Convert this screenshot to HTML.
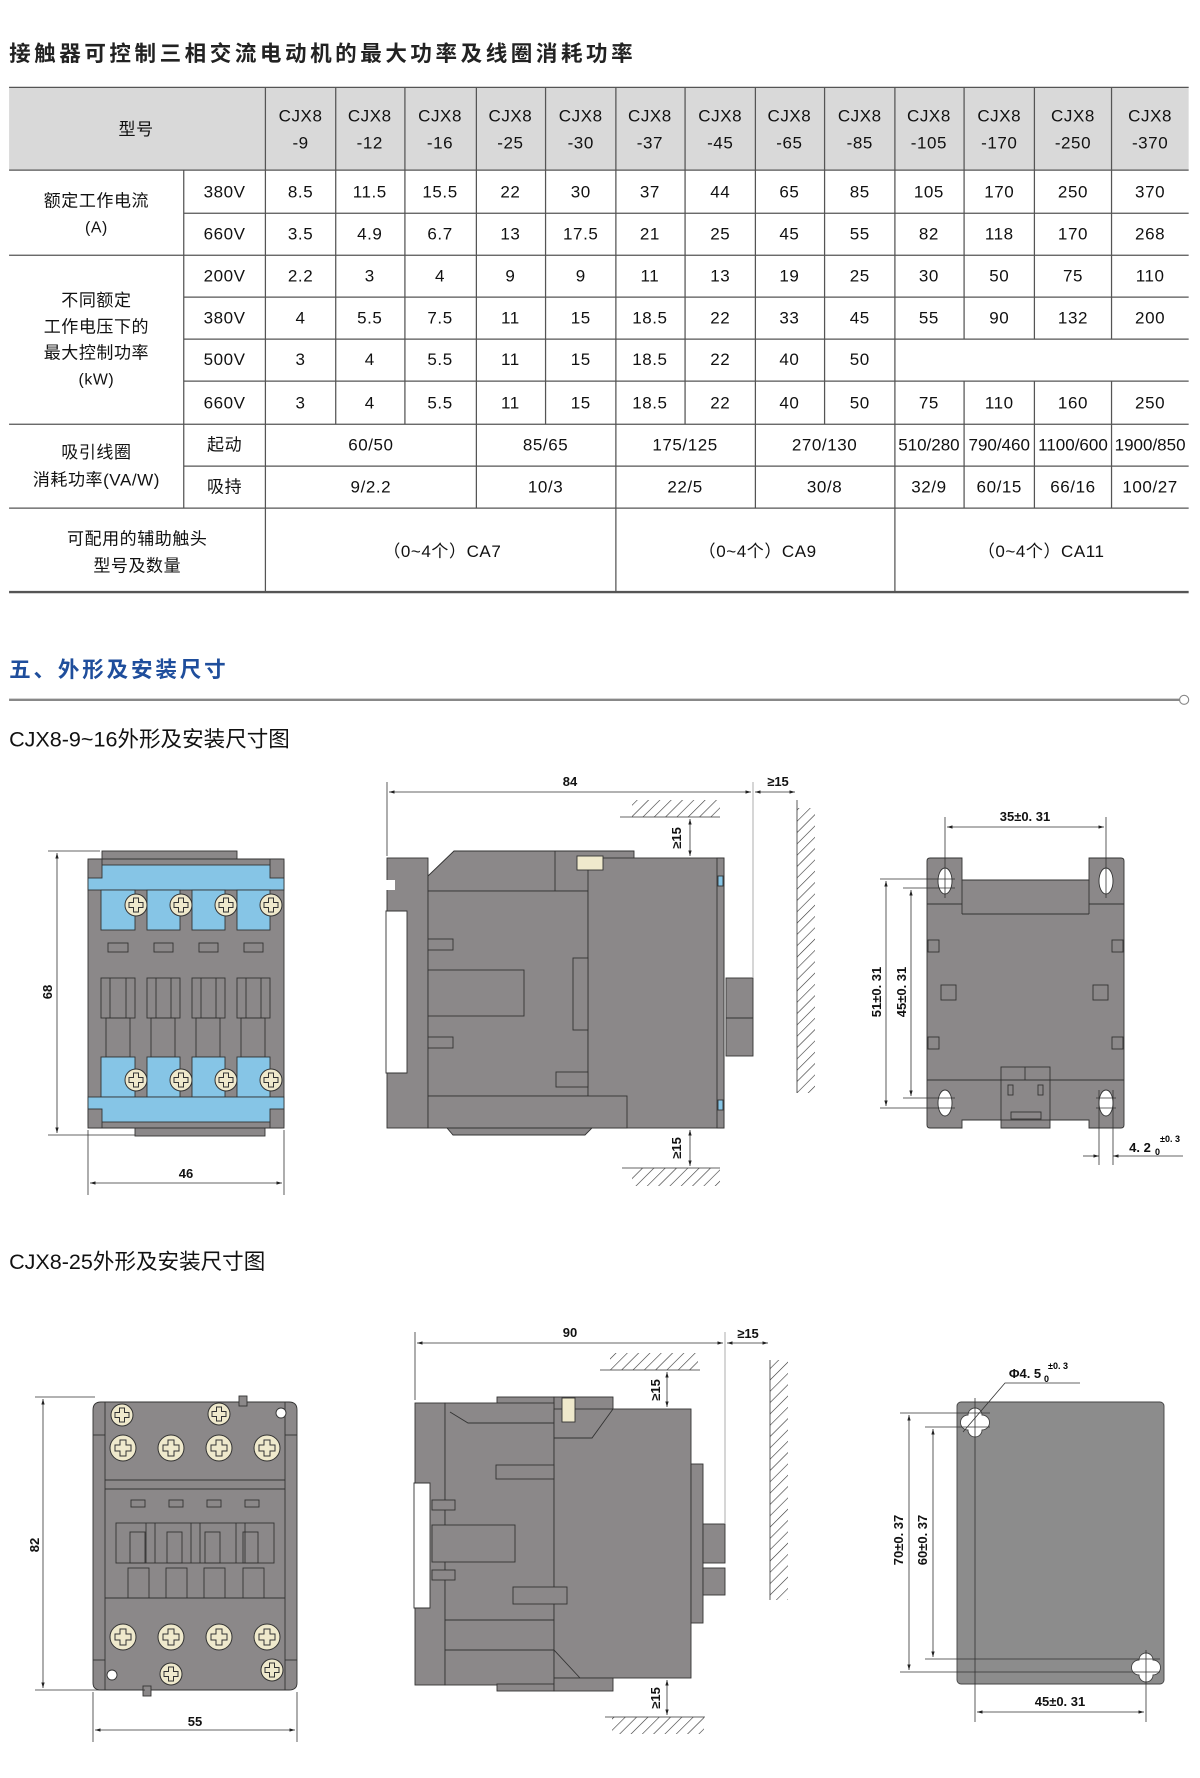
<!DOCTYPE html>
<html><head><meta charset="utf-8"><style>
html,body{margin:0;padding:0;background:#fff;width:1200px;height:1778px;overflow:hidden}
svg{display:block}
.cn{font-family:"Liberation Sans","Noto Sans CJK SC",sans-serif}
.t{font-family:"Liberation Sans Narrow","Liberation Sans","Noto Sans CJK SC",sans-serif;font-size:15px;fill:#111;text-anchor:middle;letter-spacing:0.5px}
.d{font-family:"Liberation Sans","Noto Sans CJK SC",sans-serif;font-size:13px;font-weight:bold;fill:#111;text-anchor:middle}
</style></head><body>
<svg width="1200" height="1778" viewBox="0 0 1200 1778" xmlns="http://www.w3.org/2000/svg">
<defs>
<pattern id="h" width="8" height="8" patternUnits="userSpaceOnUse" patternTransform="rotate(45)"><line x1="0" y1="0" x2="0" y2="8" stroke="#333" stroke-width="1.2"/></pattern>
<g id="scr"><circle r="11" fill="#efe9cc" stroke="#333" stroke-width="1"/><path d="M-2.5,-7 h5 v4.5 h4.5 v5 h-4.5 v4.5 h-5 v-4.5 h-4.5 v-5 h4.5z" fill="none" stroke="#333" stroke-width="1"/></g>
<g id="scr2"><circle r="13" fill="#efe9cc" stroke="#333" stroke-width="1"/><path d="M-3,-8 h6 v5 h5 v6 h-5 v5 h-6 v-5 h-5 v-6 h5z" fill="none" stroke="#333" stroke-width="1"/></g>
<marker id="a" viewBox="0 0 10 10" refX="10" refY="5" markerWidth="7" markerHeight="7" orient="auto-start-reverse"><path d="M0,2 L10,5 L0,8z" fill="#222"/></marker>
</defs>

<g transform="scale(1.13422)">
<text x="8" y="54" class="cn" font-size="19" font-weight="bold" letter-spacing="2.2" fill="#222" textLength="552" lengthAdjust="spacing">接触器可控制三相交流电动机的最大功率及线圈消耗功率</text>
<rect x="8" y="77" width="1040" height="73" fill="#d9d9d9"/>
<g stroke="#555" stroke-width="1.1">
<line x1="8" y1="77" x2="1048" y2="77"/><line x1="8" y1="150" x2="1048" y2="150"/>
<line x1="162" y1="188" x2="1048" y2="188"/><line x1="8" y1="225" x2="1048" y2="225"/>
<line x1="162" y1="262" x2="1048" y2="262"/><line x1="162" y1="299" x2="1048" y2="299"/>
<line x1="162" y1="336" x2="1048" y2="336"/><line x1="8" y1="374" x2="1048" y2="374"/>
<line x1="162" y1="411" x2="1048" y2="411"/><line x1="8" y1="448" x2="1048" y2="448"/>
<line x1="8" y1="522" x2="1048" y2="522" stroke-width="2"/>
<line x1="162" y1="150" x2="162" y2="448"/><line x1="234" y1="77" x2="234" y2="522"/>
<line x1="296" y1="77" x2="296" y2="374"/><line x1="357" y1="77" x2="357" y2="374"/>
<line x1="420" y1="77" x2="420" y2="448"/><line x1="481" y1="77" x2="481" y2="374"/>
<line x1="543" y1="77" x2="543" y2="522"/><line x1="604" y1="77" x2="604" y2="374"/>
<line x1="666" y1="77" x2="666" y2="448"/><line x1="727" y1="77" x2="727" y2="374"/>
<line x1="789" y1="77" x2="789" y2="522"/>
<line x1="850" y1="77" x2="850" y2="299"/><line x1="850" y1="336" x2="850" y2="448"/>
<line x1="912" y1="77" x2="912" y2="299"/><line x1="912" y1="336" x2="912" y2="448"/>
<line x1="980" y1="77" x2="980" y2="299"/><line x1="980" y1="336" x2="980" y2="448"/>
</g>
<g class="t">
<text x="120" y="119" class="cn" font-size="15">型号</text>
<text x="265" y="107">CJX8</text><text x="265" y="131">-9</text>
<text x="326" y="107">CJX8</text><text x="326" y="131">-12</text>
<text x="388" y="107">CJX8</text><text x="388" y="131">-16</text>
<text x="450" y="107">CJX8</text><text x="450" y="131">-25</text>
<text x="512" y="107">CJX8</text><text x="512" y="131">-30</text>
<text x="573" y="107">CJX8</text><text x="573" y="131">-37</text>
<text x="635" y="107">CJX8</text><text x="635" y="131">-45</text>
<text x="696" y="107">CJX8</text><text x="696" y="131">-65</text>
<text x="758" y="107">CJX8</text><text x="758" y="131">-85</text>
<text x="819" y="107">CJX8</text><text x="819" y="131">-105</text>
<text x="881" y="107">CJX8</text><text x="881" y="131">-170</text>
<text x="946" y="107">CJX8</text><text x="946" y="131">-250</text>
<text x="1014" y="107">CJX8</text><text x="1014" y="131">-370</text>

<text x="85" y="182" font-size="15">额定工作电流</text><text x="85" y="205" font-size="14">(A)</text>
<text x="85" y="270" font-size="15">不同额定</text><text x="85" y="293" font-size="15">工作电压下的</text><text x="85" y="316" font-size="15">最大控制功率</text><text x="85" y="339" font-size="14">(kW)</text>
<text x="85" y="404" font-size="15">吸引线圈</text><text x="85" y="428" font-size="15">消耗功率(VA/W)</text>
<text x="121" y="480" font-size="15">可配用的辅助触头</text><text x="121" y="504" font-size="15">型号及数量</text>

<text x="198" y="174">380V</text><text x="198" y="211">660V</text><text x="198" y="248">200V</text>
<text x="198" y="285">380V</text><text x="198" y="322">500V</text><text x="198" y="360">660V</text>
<text x="198" y="397">起动</text><text x="198" y="434">吸持</text>

<text x="265" y="174">8.5</text><text x="326" y="174">11.5</text><text x="388" y="174">15.5</text><text x="450" y="174">22</text><text x="512" y="174">30</text><text x="573" y="174">37</text><text x="635" y="174">44</text><text x="696" y="174">65</text><text x="758" y="174">85</text><text x="819" y="174">105</text><text x="881" y="174">170</text><text x="946" y="174">250</text><text x="1014" y="174">370</text>
<text x="265" y="211">3.5</text><text x="326" y="211">4.9</text><text x="388" y="211">6.7</text><text x="450" y="211">13</text><text x="512" y="211">17.5</text><text x="573" y="211">21</text><text x="635" y="211">25</text><text x="696" y="211">45</text><text x="758" y="211">55</text><text x="819" y="211">82</text><text x="881" y="211">118</text><text x="946" y="211">170</text><text x="1014" y="211">268</text>
<text x="265" y="248">2.2</text><text x="326" y="248">3</text><text x="388" y="248">4</text><text x="450" y="248">9</text><text x="512" y="248">9</text><text x="573" y="248">11</text><text x="635" y="248">13</text><text x="696" y="248">19</text><text x="758" y="248">25</text><text x="819" y="248">30</text><text x="881" y="248">50</text><text x="946" y="248">75</text><text x="1014" y="248">110</text>
<text x="265" y="285">4</text><text x="326" y="285">5.5</text><text x="388" y="285">7.5</text><text x="450" y="285">11</text><text x="512" y="285">15</text><text x="573" y="285">18.5</text><text x="635" y="285">22</text><text x="696" y="285">33</text><text x="758" y="285">45</text><text x="819" y="285">55</text><text x="881" y="285">90</text><text x="946" y="285">132</text><text x="1014" y="285">200</text>
<text x="265" y="322">3</text><text x="326" y="322">4</text><text x="388" y="322">5.5</text><text x="450" y="322">11</text><text x="512" y="322">15</text><text x="573" y="322">18.5</text><text x="635" y="322">22</text><text x="696" y="322">40</text><text x="758" y="322">50</text>
<text x="265" y="360">3</text><text x="326" y="360">4</text><text x="388" y="360">5.5</text><text x="450" y="360">11</text><text x="512" y="360">15</text><text x="573" y="360">18.5</text><text x="635" y="360">22</text><text x="696" y="360">40</text><text x="758" y="360">50</text><text x="819" y="360">75</text><text x="881" y="360">110</text><text x="946" y="360">160</text><text x="1014" y="360">250</text>
<text x="327" y="397">60/50</text><text x="481" y="397">85/65</text><text x="604" y="397">175/125</text><text x="727" y="397">270/130</text><text x="819" y="397" letter-spacing="0">510/280</text><text x="881" y="397" letter-spacing="0">790/460</text><text x="946" y="397" letter-spacing="0">1100/600</text><text x="1014" y="397" letter-spacing="0">1900/850</text>
<text x="327" y="434">9/2.2</text><text x="481" y="434">10/3</text><text x="604" y="434">22/5</text><text x="727" y="434">30/8</text><text x="819" y="434">32/9</text><text x="881" y="434">60/15</text><text x="946" y="434">66/16</text><text x="1014" y="434">100/27</text>
<text x="390" y="491">（0~4个）CA7</text><text x="668" y="491">（0~4个）CA9</text><text x="918" y="491">（0~4个）CA11</text>
</g>
<text x="8" y="597" class="cn" font-size="19" font-weight="bold" letter-spacing="2.5" fill="#1f4e9c">五、外形及安装尺寸</text>
<line x1="8" y1="617" x2="1040" y2="617" stroke="#888" stroke-width="2"/>
<circle cx="1044" cy="617" r="4" fill="#fff" stroke="#888"/>
<text x="8" y="658" class="cn" font-size="19" fill="#111">CJX8-9~16外形及安装尺寸图</text>
<text x="8" y="1119" class="cn" font-size="19" fill="#111">CJX8-25外形及安装尺寸图</text>
</g>

<!-- Drawing 1 front -->
<g stroke="#333" stroke-width="0.9">
<rect x="102" y="851" width="135" height="10" fill="#8b8889"/>
<rect x="135" y="1126" width="130" height="10" fill="#8b8889"/>
<rect x="88" y="859" width="196" height="269" rx="3" fill="#8b8889"/>
<rect x="88" y="865" width="196" height="25" fill="#86c5e6"/>
<rect x="88" y="859" width="14" height="19" fill="#8b8889"/><rect x="270" y="859" width="14" height="19" fill="#8b8889"/>
<rect x="101" y="890" width="34" height="40" fill="#86c5e6"/><rect x="147" y="890" width="33" height="40" fill="#86c5e6"/>
<rect x="192" y="890" width="33" height="40" fill="#86c5e6"/><rect x="237" y="890" width="33" height="40" fill="#86c5e6"/>
<rect x="108" y="943" width="20" height="9" fill="none"/><rect x="154" y="943" width="19" height="9" fill="none"/>
<rect x="199" y="943" width="19" height="9" fill="none"/><rect x="244" y="943" width="19" height="9" fill="none"/>
<rect x="101" y="978" width="34" height="40" fill="none"/><rect x="147" y="978" width="33" height="40" fill="none"/>
<rect x="192" y="978" width="33" height="40" fill="none"/><rect x="237" y="978" width="33" height="40" fill="none"/>
<line x1="110" y1="978" x2="110" y2="1018"/><line x1="126" y1="978" x2="126" y2="1018"/>
<line x1="156" y1="978" x2="156" y2="1018"/><line x1="171" y1="978" x2="171" y2="1018"/>
<line x1="201" y1="978" x2="201" y2="1018"/><line x1="216" y1="978" x2="216" y2="1018"/>
<line x1="246" y1="978" x2="246" y2="1018"/><line x1="261" y1="978" x2="261" y2="1018"/>
<rect x="106" y="1018" width="24" height="39" fill="none"/><rect x="151" y="1018" width="24" height="39" fill="none"/>
<rect x="196" y="1018" width="24" height="39" fill="none"/><rect x="241" y="1018" width="24" height="39" fill="none"/>
<rect x="101" y="1057" width="34" height="40" fill="#86c5e6"/><rect x="147" y="1057" width="33" height="40" fill="#86c5e6"/>
<rect x="192" y="1057" width="33" height="40" fill="#86c5e6"/><rect x="237" y="1057" width="33" height="40" fill="#86c5e6"/>
<rect x="88" y="1097" width="196" height="25" fill="#86c5e6"/>
<rect x="88" y="1109" width="14" height="19" fill="#8b8889"/><rect x="270" y="1109" width="14" height="19" fill="#8b8889"/>
</g>
<use href="#scr" x="136" y="905"/><use href="#scr" x="181" y="905"/><use href="#scr" x="226" y="905"/><use href="#scr" x="271" y="905"/>
<use href="#scr" x="136" y="1080"/><use href="#scr" x="181" y="1080"/><use href="#scr" x="226" y="1080"/><use href="#scr" x="271" y="1080"/>
<g stroke="#333" stroke-width="0.8" fill="none">
<line x1="48" y1="851" x2="100" y2="851"/><line x1="48" y1="1135" x2="135" y2="1135"/>
<line x1="57" y1="853" x2="57" y2="1133" marker-start="url(#a)" marker-end="url(#a)"/>
<line x1="88" y1="1130" x2="88" y2="1195"/><line x1="284" y1="1130" x2="284" y2="1195"/>
<line x1="90" y1="1183" x2="282" y2="1183" marker-start="url(#a)" marker-end="url(#a)"/>
</g>
<text class="d" x="186" y="1178">46</text>
<text class="d" transform="translate(52,992) rotate(-90)">68</text>

<!-- Drawing 1 side -->
<g stroke="#333" stroke-width="0.9" fill="#8b8889">
<rect x="387" y="858" width="41" height="270"/>
<rect x="386" y="880" width="9" height="10" fill="#fff" stroke="none"/>
<path d="M386,911 L407,911 L407,1073 L386,1073 Z" fill="#fff"/>
<path d="M428,876 L454,851 L634,851 L634,891 L428,891 Z"/>
<rect x="428" y="891" width="160" height="205"/>
<rect x="588" y="858" width="136" height="270"/>
<rect x="428" y="1096" width="199" height="32"/>
<path d="M447,1128 L592,1128 L585,1135 L453,1135 Z"/>
<rect x="717" y="858" width="7" height="270"/>
<rect x="718" y="876" width="5" height="10" fill="#86c5e6"/><rect x="718" y="1100" width="5" height="10" fill="#86c5e6"/>
<rect x="726" y="978" width="27" height="78"/><line x1="726" y1="1018" x2="753" y2="1018"/>
<rect x="428" y="939" width="25" height="11"/><rect x="428" y="970" width="96" height="46"/><rect x="428" y="1037" width="25" height="11"/>
<rect x="573" y="958" width="15" height="72"/><rect x="556" y="1072" width="32" height="15"/>
<rect x="577" y="856" width="26" height="14" fill="#efe9cc"/>
<line x1="555" y1="851" x2="555" y2="891"/>
</g>
<g stroke="#333" stroke-width="0.8" fill="none">
<line x1="387" y1="782" x2="387" y2="856"/><line x1="753" y1="782" x2="753" y2="978" stroke="#999"/>
<line x1="389" y1="792" x2="751" y2="792" marker-start="url(#a)" marker-end="url(#a)"/>
<line x1="755" y1="792" x2="795" y2="792" marker-start="url(#a)" marker-end="url(#a)"/>
<line x1="797" y1="800" x2="797" y2="1093"/>
<line x1="620" y1="817" x2="720" y2="817"/><line x1="622" y1="1168" x2="720" y2="1168"/>
<line x1="690" y1="819" x2="690" y2="856" marker-start="url(#a)" marker-end="url(#a)"/>
<line x1="690" y1="1130" x2="690" y2="1166" marker-start="url(#a)" marker-end="url(#a)"/>
</g>
<rect x="632" y="800" width="88" height="17" fill="url(#h)"/>
<rect x="632" y="1168" width="88" height="18" fill="url(#h)"/>
<rect x="797" y="808" width="18" height="285" fill="url(#h)"/>
<text class="d" x="570" y="786">84</text><text class="d" x="778" y="786">≥15</text>
<text class="d" transform="translate(681,838) rotate(-90)">≥15</text>
<text class="d" transform="translate(681,1148) rotate(-90)">≥15</text>

<!-- Drawing 1 bottom view -->
<g stroke="#333" stroke-width="0.9">
<path d="M930,858 L962,858 L962,880 L1089,880 L1089,858 L1121,858 Q1124,858 1124,861 L1124,1125 Q1124,1128 1121,1128 L1089,1128 L1089,1120 L1050,1120 L1050,1128 L1001,1128 L1001,1120 L962,1120 L962,1128 L930,1128 Q927,1128 927,1125 L927,861 Q927,858 930,858 Z" fill="#8b8889"/>
<g fill="none"><line x1="927" y1="904" x2="962" y2="904"/><line x1="1089" y1="904" x2="1124" y2="904"/>
<line x1="962" y1="880" x2="962" y2="914"/><line x1="1089" y1="880" x2="1089" y2="914"/><line x1="962" y1="914" x2="1089" y2="914"/>
<rect x="928" y="940" width="11" height="12"/><rect x="1112" y="940" width="11" height="12"/>
<rect x="941" y="985" width="15" height="15"/><rect x="1093" y="985" width="15" height="15"/>
<rect x="928" y="1037" width="11" height="12"/><rect x="1112" y="1037" width="11" height="12"/>
<line x1="927" y1="1080" x2="1124" y2="1080"/>
<rect x="1001" y="1067" width="49" height="53"/><line x1="1025" y1="1067" x2="1025" y2="1080"/>
<rect x="1008" y="1085" width="5" height="10"/><rect x="1038" y="1085" width="5" height="10"/><rect x="1011" y="1112" width="30" height="7"/></g>
<ellipse cx="945" cy="881" rx="7" ry="13" fill="#fff"/><ellipse cx="1106" cy="881" rx="7" ry="13" fill="#fff"/>
<ellipse cx="945" cy="1103" rx="7" ry="13" fill="#fff"/><ellipse cx="1106" cy="1103" rx="7" ry="13" fill="#fff"/>
</g>
<g stroke="#333" stroke-width="0.8" fill="none">
<line x1="945" y1="817" x2="945" y2="898"/><line x1="1106" y1="817" x2="1106" y2="898"/>
<line x1="947" y1="827" x2="1104" y2="827" marker-start="url(#a)" marker-end="url(#a)"/>
<line x1="880" y1="879" x2="955" y2="879"/><line x1="903" y1="888" x2="955" y2="888"/>
<line x1="903" y1="1098" x2="955" y2="1098"/><line x1="880" y1="1108" x2="955" y2="1108"/>
<line x1="1096" y1="1098" x2="1116" y2="1098"/><line x1="1096" y1="1108" x2="1116" y2="1108"/>
<line x1="886" y1="881" x2="886" y2="1106" marker-start="url(#a)" marker-end="url(#a)"/>
<line x1="911" y1="890" x2="911" y2="1096" marker-start="url(#a)" marker-end="url(#a)"/>
<line x1="1099" y1="1090" x2="1099" y2="1165"/><line x1="1113" y1="1090" x2="1113" y2="1165"/>
<line x1="1083" y1="1156" x2="1099" y2="1156" marker-end="url(#a)"/><line x1="1183" y1="1156" x2="1113" y2="1156" marker-end="url(#a)"/>
</g>
<text class="d" x="1025" y="821">35±0. 31</text>
<text class="d" transform="translate(881,992) rotate(-90)">51±0. 31</text>
<text class="d" transform="translate(906,992) rotate(-90)">45±0. 31</text>
<text class="d" x="1140" y="1152">4. 2</text><text x="1160" y="1142" font-size="9" font-weight="bold" font-family="Liberation Sans">±0. 3</text><text x="1155" y="1155" font-size="9" font-weight="bold" font-family="Liberation Sans">0</text>

<!-- Drawing 2 front -->
<g stroke="#333" stroke-width="0.9" fill="#8b8889">
<path d="M93,1410 Q93,1402 101,1402 L289,1402 Q297,1402 297,1410 L297,1683 Q297,1690 289,1690 L101,1690 Q93,1690 93,1683 Z"/>
<rect x="239" y="1396" width="8" height="10"/><rect x="143" y="1686" width="8" height="10"/>
<g fill="none">
<line x1="105" y1="1402" x2="105" y2="1690"/><line x1="285" y1="1402" x2="285" y2="1690"/>
<line x1="105" y1="1480" x2="285" y2="1480"/><line x1="105" y1="1489" x2="285" y2="1489"/>
<line x1="105" y1="1598" x2="285" y2="1598"/>
<line x1="93" y1="1435" x2="105" y2="1435"/><line x1="285" y1="1435" x2="297" y2="1435"/>
<line x1="93" y1="1660" x2="105" y2="1660"/><line x1="285" y1="1660" x2="297" y2="1660"/>
<rect x="131" y="1500" width="14" height="7"/><rect x="169" y="1500" width="14" height="7"/>
<rect x="207" y="1500" width="14" height="7"/><rect x="245" y="1500" width="14" height="7"/>
<rect x="116" y="1523" width="158" height="40"/>
<rect x="130" y="1532" width="15" height="31"/><rect x="167" y="1532" width="15" height="31"/><rect x="205" y="1532" width="15" height="31"/><rect x="243" y="1532" width="15" height="31"/>
<line x1="146" y1="1523" x2="146" y2="1563"/><line x1="155" y1="1523" x2="155" y2="1563"/>
<line x1="191" y1="1523" x2="191" y2="1563"/><line x1="200" y1="1523" x2="200" y2="1563"/>
<line x1="236" y1="1523" x2="236" y2="1563"/><line x1="245" y1="1523" x2="245" y2="1563"/>
<rect x="128" y="1568" width="21" height="30"/><rect x="166" y="1568" width="21" height="30"/>
<rect x="204" y="1568" width="21" height="30"/><rect x="243" y="1568" width="21" height="30"/>
</g>
<circle cx="281" cy="1413" r="5" fill="#fff"/><circle cx="112" cy="1675" r="5" fill="#fff"/>
</g>
<use href="#scr" x="122" y="1415"/><use href="#scr" x="272" y="1670"/>
<use href="#scr" x="219" y="1414"/><use href="#scr" x="171" y="1674"/>
<use href="#scr2" x="123" y="1448"/><use href="#scr2" x="171" y="1448"/><use href="#scr2" x="219" y="1448"/><use href="#scr2" x="267" y="1448"/>
<use href="#scr2" x="123" y="1637"/><use href="#scr2" x="171" y="1637"/><use href="#scr2" x="219" y="1637"/><use href="#scr2" x="267" y="1637"/>
<g stroke="#333" stroke-width="0.8" fill="none">
<line x1="35" y1="1397" x2="95" y2="1397"/><line x1="35" y1="1690" x2="145" y2="1690"/>
<line x1="43" y1="1399" x2="43" y2="1688" marker-start="url(#a)" marker-end="url(#a)"/>
<line x1="93" y1="1692" x2="93" y2="1742"/><line x1="297" y1="1692" x2="297" y2="1742"/>
<line x1="95" y1="1730" x2="295" y2="1730" marker-start="url(#a)" marker-end="url(#a)"/>
</g>
<text class="d" x="195" y="1726">55</text>
<text class="d" transform="translate(39,1545) rotate(-90)">82</text>

<!-- Drawing 2 side -->
<g stroke="#333" stroke-width="0.9" fill="#8b8889">
<rect x="497" y="1397" width="57" height="10"/>
<rect x="554" y="1397" width="59" height="41"/>
<rect x="415" y="1403" width="30" height="282"/>
<path d="M414,1483 L430,1483 L430,1608 L414,1608 Z" fill="#fff"/>
<rect x="445" y="1403" width="109" height="282"/>
<rect x="554" y="1409" width="137" height="269"/>
<path d="M554,1438 L592,1438 L613,1409" fill="none"/>
<path d="M554,1650 L580,1678" fill="none"/>
<rect x="562" y="1398" width="13" height="24" fill="#efe9cc"/>
<rect x="496" y="1465" width="58" height="14"/><rect x="432" y="1500" width="23" height="10"/><rect x="432" y="1525" width="83" height="37"/><rect x="432" y="1570" width="23" height="10"/>
<rect x="513" y="1587" width="54" height="17"/>
<line x1="445" y1="1620" x2="554" y2="1620"/><line x1="445" y1="1650" x2="554" y2="1650"/>
<path d="M450,1412 L468,1423 L554,1423" fill="none"/>
<rect x="497" y="1684" width="57" height="7"/><rect x="554" y="1678" width="59" height="13"/>
<rect x="691" y="1464" width="12" height="159"/>
<rect x="703" y="1524" width="22" height="39"/><rect x="703" y="1568" width="22" height="27"/>
</g>
<g stroke="#333" stroke-width="0.8" fill="none">
<line x1="415" y1="1332" x2="415" y2="1400"/><line x1="725" y1="1332" x2="725" y2="1524" stroke="#999"/>
<line x1="417" y1="1343" x2="723" y2="1343" marker-start="url(#a)" marker-end="url(#a)"/>
<line x1="727" y1="1343" x2="768" y2="1343" marker-start="url(#a)" marker-end="url(#a)"/>
<line x1="770" y1="1360" x2="770" y2="1600"/>
<line x1="600" y1="1370" x2="700" y2="1370"/><line x1="605" y1="1717" x2="705" y2="1717"/>
<line x1="667" y1="1372" x2="667" y2="1407" marker-start="url(#a)" marker-end="url(#a)"/>
<line x1="667" y1="1680" x2="667" y2="1715" marker-start="url(#a)" marker-end="url(#a)"/>
</g>
<rect x="610" y="1353" width="88" height="17" fill="url(#h)"/>
<rect x="612" y="1717" width="92" height="17" fill="url(#h)"/>
<rect x="770" y="1360" width="18" height="240" fill="url(#h)"/>
<text class="d" x="570" y="1337">90</text><text class="d" x="748" y="1338">≥15</text>
<text class="d" transform="translate(660,1390) rotate(-90)">≥15</text>
<text class="d" transform="translate(660,1698) rotate(-90)">≥15</text>

<!-- Drawing 2 bottom view -->
<g stroke="#444" stroke-width="0.9">
<rect x="957" y="1402" width="207" height="282" rx="4" fill="#8c8c8c"/>
<path d="M968,1415 a7,7 0 1 1 14,0 a7,7 0 0 1 0,15 a7,7 0 1 1 -14,0 a7,7 0 0 1 0,-15z" fill="#fff"/>
<path d="M1139,1660 a7,7 0 1 1 14,0 a7,7 0 0 1 0,15 a7,7 0 1 1 -14,0 a7,7 0 0 1 0,-15z" fill="#fff"/>
</g>
<g stroke="#333" stroke-width="0.8" fill="none">
<line x1="975" y1="1398" x2="975" y2="1722"/><line x1="1146" y1="1650" x2="1146" y2="1722"/>
<line x1="900" y1="1413" x2="990" y2="1413"/><line x1="925" y1="1427" x2="990" y2="1427"/>
<line x1="925" y1="1659" x2="1160" y2="1659"/><line x1="900" y1="1672" x2="1160" y2="1672"/>
<line x1="909" y1="1415" x2="909" y2="1670" marker-start="url(#a)" marker-end="url(#a)"/>
<line x1="933" y1="1429" x2="933" y2="1657" marker-start="url(#a)" marker-end="url(#a)"/>
<line x1="977" y1="1712" x2="1144" y2="1712" marker-start="url(#a)" marker-end="url(#a)"/>
<polyline points="1080,1383 1005,1383 963,1432"/>
</g>
<text class="d" x="1025" y="1378">Φ4. 5</text><text x="1048" y="1369" font-size="9" font-weight="bold" font-family="Liberation Sans">±0. 3</text><text x="1044" y="1382" font-size="9" font-weight="bold" font-family="Liberation Sans">0</text>
<text class="d" transform="translate(903,1540) rotate(-90)">70±0. 37</text>
<text class="d" transform="translate(927,1540) rotate(-90)">60±0. 37</text>
<text class="d" x="1060" y="1706">45±0. 31</text>
</svg>
</body></html>
